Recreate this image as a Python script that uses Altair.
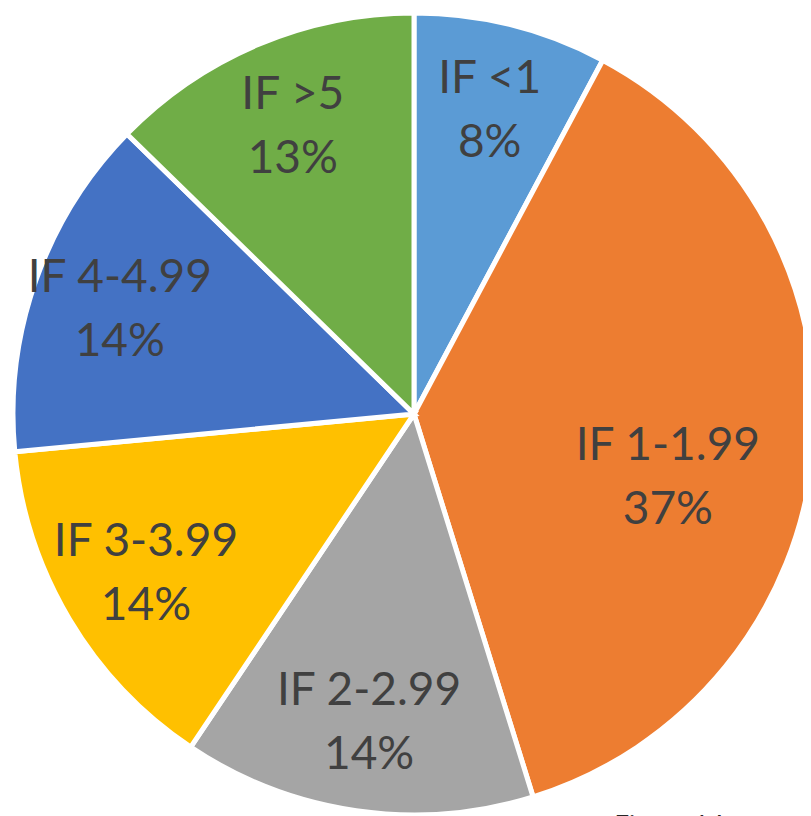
import altair as alt
import pandas as pd

labels = ["IF <1", "IF 1-1.99", "IF 2-2.99", "IF 3-3.99", "IF 4-4.99", "IF >5"]
shares = [7.8, 37.4, 14.2, 14.1, 13.8, 12.7]
shown_pct = [8, 37, 14, 14, 14, 13]
colors = ["#5B9BD5", "#ED7D31", "#A5A5A5", "#FFC000", "#4472C4", "#70AD47"]
caption = "Figure 1 Impact factor distribution"

df = pd.DataFrame({
    "label": labels,
    "share": shares,
    "idx": list(range(len(labels))),
    "txt": [f"{l}\n{p}%" for l, p in zip(labels, shown_pct)],
})

arcs = alt.Chart(df).mark_arc(outerRadius=401, stroke="white", strokeWidth=5).encode(
    theta=alt.Theta("share:Q", stack=True),
    order=alt.Order("idx:Q"),
    x=alt.value(406),
    y=alt.value(406),
    color=alt.Color("label:N", scale=alt.Scale(domain=labels, range=colors), legend=None),
)

txt_base = alt.Chart(df).transform_window(
    cum="sum(share)", sort=[alt.SortField("idx")]
).transform_joinaggregate(
    total="sum(share)"
).transform_calculate(
    mid="(datum.cum - datum.share / 2) / datum.total * 100"
)

text_style = dict(font="Lato", fontSize=46, color="#404040", lineBreak="\n",
                  lineHeight=64, align="center", baseline="middle")

theta_mid = alt.Theta("mid:Q", scale=alt.Scale(domain=[0, 100]))

texts_small = txt_base.transform_filter("datum.share < 30").mark_text(
    radius=312, dy=-32, **text_style
).encode(theta=theta_mid, x=alt.value(406), y=alt.value(406), text="txt:N")

texts_big = txt_base.transform_filter("datum.share >= 30").mark_text(
    radius=255, dy=8, **text_style
).encode(theta=theta_mid, x=alt.value(406), y=alt.value(406), text="txt:N")

cap = alt.Chart(pd.DataFrame({"t": [caption]})).mark_text(
    align="left", baseline="top", fontSize=28, font="Lato", fontStyle="italic", color="#262626",
).encode(x=alt.value(605), y=alt.value(806), text="t:N")

chart = alt.layer(arcs, texts_small, texts_big, cap).resolve_scale(
    theta="independent"
).properties(
    width=795, height=808, padding=0, autosize=alt.AutoSizeParams(type="none"),
    background="white",
).configure_view(stroke=None)

chart.save("out.html", embed_options={"renderer": "svg", "actions": False})
